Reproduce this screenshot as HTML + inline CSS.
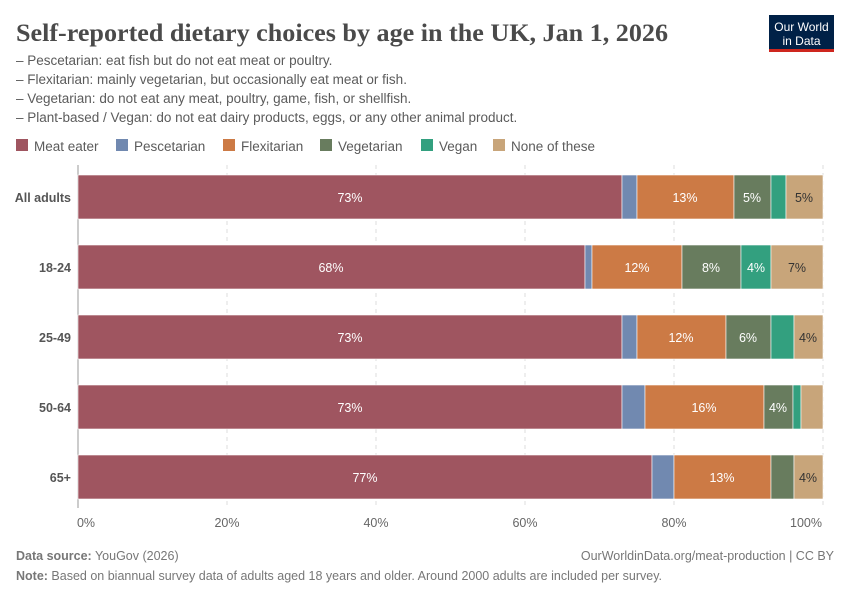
<!DOCTYPE html>
<html><head><meta charset="utf-8"><style>
body{margin:0;background:#fff;}
svg{display:block;font-family:"Liberation Sans",sans-serif;}
</style></head><body>
<svg width="850" height="600" viewBox="0 0 850 600" xmlns="http://www.w3.org/2000/svg">
<rect width="850" height="600" fill="#fff"/>
<text x="16" y="41" font-family="Liberation Serif,serif" font-size="25" font-weight="bold" fill="#4a4a4a" textLength="652" lengthAdjust="spacingAndGlyphs">Self-reported dietary choices by age in the UK, Jan 1, 2026</text>
<g font-size="13.5" fill="#5b5b5b">
<text x="16" y="65">– Pescetarian: eat fish but do not eat meat or poultry.</text>
<text x="16" y="84">– Flexitarian: mainly vegetarian, but occasionally eat meat or fish.</text>
<text x="16" y="103">– Vegetarian: do not eat any meat, poultry, game, fish, or shellfish.</text>
<text x="16" y="122">– Plant-based / Vegan: do not eat dairy products, eggs, or any other animal product.</text>
</g>
<rect x="769" y="15" width="65" height="37" fill="#002147"/>
<rect x="769" y="49" width="65" height="3" fill="#ce261e"/>
<text x="801.5" y="31" font-size="12" fill="#fff" text-anchor="middle">Our World</text>
<text x="801.5" y="45" font-size="12" fill="#fff" text-anchor="middle">in Data</text>
<g font-size="13.5" fill="#5b5b5b">
<rect x="16" y="139" width="12" height="12" fill="#9f5560"/><text x="34" y="151">Meat eater</text>
<rect x="116" y="139" width="12" height="12" fill="#7189b0"/><text x="134" y="151">Pescetarian</text>
<rect x="223" y="139" width="12" height="12" fill="#cc7a45"/><text x="241" y="151">Flexitarian</text>
<rect x="320" y="139" width="12" height="12" fill="#687c5e"/><text x="338" y="151">Vegetarian</text>
<rect x="421" y="139" width="12" height="12" fill="#33a07f"/><text x="439" y="151">Vegan</text>
<rect x="493" y="139" width="12" height="12" fill="#c8a57a"/><text x="511" y="151">None of these</text>
</g>
<g stroke="#ddd" stroke-dasharray="4,4">
<line x1="227" y1="165" x2="227" y2="508"/><line x1="376" y1="165" x2="376" y2="508"/>
<line x1="525" y1="165" x2="525" y2="508"/><line x1="674" y1="165" x2="674" y2="508"/>
<line x1="823" y1="165" x2="823" y2="508"/>
</g>
<line x1="78" y1="165" x2="78" y2="508" stroke="#999"/>
<g stroke="#fff" stroke-width="0.6">
<rect x="78" y="175" width="544" height="44" fill="#9f5560"/><rect x="622" y="175" width="15" height="44" fill="#7189b0"/><rect x="637" y="175" width="97" height="44" fill="#cc7a45"/><rect x="734" y="175" width="37" height="44" fill="#687c5e"/><rect x="771" y="175" width="15" height="44" fill="#33a07f"/><rect x="786" y="175" width="37" height="44" fill="#c8a57a"/>
<rect x="78" y="245" width="507" height="44" fill="#9f5560"/><rect x="585" y="245" width="7" height="44" fill="#7189b0"/><rect x="592" y="245" width="90" height="44" fill="#cc7a45"/><rect x="682" y="245" width="59" height="44" fill="#687c5e"/><rect x="741" y="245" width="30" height="44" fill="#33a07f"/><rect x="771" y="245" width="52" height="44" fill="#c8a57a"/>
<rect x="78" y="315" width="544" height="44" fill="#9f5560"/><rect x="622" y="315" width="15" height="44" fill="#7189b0"/><rect x="637" y="315" width="89" height="44" fill="#cc7a45"/><rect x="726" y="315" width="45" height="44" fill="#687c5e"/><rect x="771" y="315" width="23" height="44" fill="#33a07f"/><rect x="794" y="315" width="29" height="44" fill="#c8a57a"/>
<rect x="78" y="385" width="544" height="44" fill="#9f5560"/><rect x="622" y="385" width="23" height="44" fill="#7189b0"/><rect x="645" y="385" width="119" height="44" fill="#cc7a45"/><rect x="764" y="385" width="29" height="44" fill="#687c5e"/><rect x="793" y="385" width="8" height="44" fill="#33a07f"/><rect x="801" y="385" width="22" height="44" fill="#c8a57a"/>
<rect x="78" y="455" width="574" height="44" fill="#9f5560"/><rect x="652" y="455" width="22" height="44" fill="#7189b0"/><rect x="674" y="455" width="97" height="44" fill="#cc7a45"/><rect x="771" y="455" width="23" height="44" fill="#687c5e"/><rect x="794" y="455" width="29" height="44" fill="#c8a57a"/>
</g>
<g font-size="12.5" fill="#fff" text-anchor="middle">
<text x="350" y="202">73%</text><text x="685" y="202">13%</text><text x="752" y="202">5%</text>
<text x="331" y="272">68%</text><text x="637" y="272">12%</text><text x="711" y="272">8%</text><text x="756" y="272">4%</text>
<text x="350" y="342">73%</text><text x="681" y="342">12%</text><text x="748" y="342">6%</text>
<text x="350" y="412">73%</text><text x="704" y="412">16%</text><text x="778" y="412">4%</text>
<text x="365" y="482">77%</text><text x="722" y="482">13%</text>
</g>
<g font-size="12.5" fill="#333" text-anchor="middle">
<text x="804" y="202">5%</text><text x="797" y="272">7%</text><text x="808" y="342">4%</text><text x="808" y="482">4%</text>
</g>
<g font-size="12.5" font-weight="bold" fill="#555" text-anchor="end">
<text x="71" y="202">All adults</text><text x="71" y="272">18-24</text><text x="71" y="342">25-49</text><text x="71" y="412">50-64</text><text x="71" y="482">65+</text>
</g>
<g font-size="12.5" fill="#666" text-anchor="middle">
<text x="86" y="527">0%</text><text x="227" y="527">20%</text><text x="376" y="527">40%</text><text x="525" y="527">60%</text><text x="674" y="527">80%</text><text x="806" y="527">100%</text>
</g>
<g font-size="12.5" fill="#777">
<text x="16" y="560"><tspan font-weight="bold">Data source:</tspan> YouGov (2026)</text>
<text x="834" y="560" text-anchor="end">OurWorldinData.org/meat-production | CC BY</text>
<text x="16" y="580"><tspan font-weight="bold">Note:</tspan> Based on biannual survey data of adults aged 18 years and older. Around 2000 adults are included per survey.</text>
</g>
</svg>
</body></html>
